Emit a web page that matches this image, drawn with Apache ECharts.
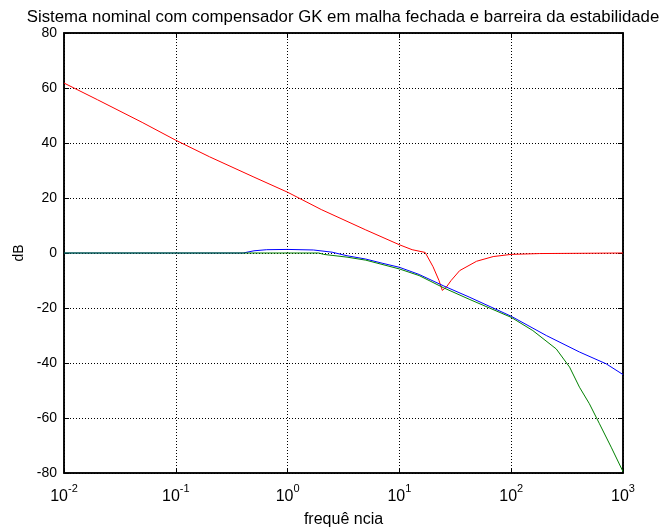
<!DOCTYPE html>
<html>
<head>
<meta charset="utf-8">
<script src="https://cdn.jsdelivr.net/npm/echarts@6/dist/echarts.min.js"></script>
<style>
  html, body { margin: 0; padding: 0; background: #fff; }
  #chart { width: 659px; height: 529px; }
</style>
</head>
<body>
<div id="chart"></div>
<script>
// Open-loop barrier (red)
const redFreq = [0.01, 0.02, 0.05, 0.1, 0.2, 0.5, 1, 2, 5, 10, 13, 17, 20, 22.6, 24.2, 26.3, 29, 34.6, 49, 69, 100, 180, 1000];
const redDb   = [61.8, 55.7, 47.5, 41.0, 35.0, 27.6, 22.1, 15.8, 8.4, 3.0, 1.2, 0.2, -5.0, -10.0, -13.6, -12.4, -10.0, -6.4, -3.0, -1.3, -0.5, -0.2, 0.0];

// Closed loop, nominal plant with GK (blue)
const blueFreq = [0.01, 0.4, 0.5, 0.65, 1, 1.7, 2.5, 3.4, 5, 7, 10, 15, 25, 42, 100, 206, 408, 707, 1000];
const blueDb   = [0.0, 0.0, 0.8, 1.2, 1.3, 1.1, 0.3, -1.0, -2.2, -3.7, -5.2, -7.8, -12.0, -16.0, -23.0, -30.0, -36.0, -40.3, -44.2];

// Closed loop reference (green)
const greenFreq = [0.01, 1.9, 2.1, 3.4, 5, 10, 15, 25, 42, 100, 156, 253, 333, 408, 500, 616, 784, 1000];
const greenDb   = [0.0, 0.0, -0.5, -1.5, -2.6, -5.8, -8.2, -12.7, -16.8, -23.4, -28.2, -34.9, -41.5, -48.8, -54.8, -62.1, -70.6, -79.5];

const yTicks = [-80, -60, -40, -20, 0, 20, 40, 60, 80];

const FONT = 'Liberation Sans, Arial, sans-serif';
const pairs = (xs, ys) => xs.map((x, i) => [x, ys[i]]);

const chart = echarts.init(document.getElementById('chart'), null, { renderer: 'canvas' });

const gridLine = { show: true, lineStyle: { color: '#000', type: [1, 2], width: 1 } };
const blackLine = { show: true, onZero: false, lineStyle: { color: '#000', width: 1.5 } };
const tickIn = { show: true, inside: true, length: 5, lineStyle: { color: '#000' } };

chart.setOption({
  animation: false,
  backgroundColor: '#fff',
  title: {
    text: 'Sistema nominal com compensador GK em malha fechada e barreira da estabilidade',
    left: 338,
    textAlign: 'center',
    top: 4,
    textStyle: { fontFamily: FONT, fontSize: 16.8, fontWeight: 'normal', color: '#000' }
  },
  grid: {
    left: 64, right: 36, top: 33, bottom: 56,
    outerBoundsMode: 'none', containLabel: false,
    show: true, borderColor: '#000', borderWidth: 1.5, backgroundColor: 'transparent'
  },
  xAxis: [{
    type: 'log', logBase: 10, min: 0.01, max: 1000,
    name: 'frequê ncia', nameLocation: 'middle', nameGap: 39,
    nameTextStyle: { fontFamily: FONT, fontSize: 16, color: '#000' },
    axisLine: blackLine, axisTick: tickIn,
    minorTick: { show: false },
    splitLine: gridLine,
    axisLabel: {
      margin: 10,
      // base "10" sits lower, exponent rides on top (equal-height token boxes)
      formatter: v => '{b|10}{s|' + Math.round(Math.log10(v)) + '}',
      rich: {
        b: { fontFamily: FONT, fontSize: 16, color: '#000', lineHeight: 16, padding: [6, 0, 0, 0], verticalAlign: 'top' },
        s: { fontFamily: FONT, fontSize: 11, color: '#000', lineHeight: 11, padding: [0, 0, 11, 0], verticalAlign: 'top' }
      }
    }
  }, {
    type: 'log', logBase: 10, min: 0.01, max: 1000, position: 'top',
    axisLine: blackLine, axisTick: tickIn, axisLabel: { show: false }, splitLine: { show: false }
  }],
  yAxis: [{
    type: 'value', min: -80, max: 80, interval: 20,
    name: 'dB', nameLocation: 'middle', nameGap: 36, nameRotate: 90,
    nameTextStyle: { fontFamily: FONT, fontSize: 14, color: '#000' },
    axisLine: blackLine, axisTick: tickIn,
    splitLine: gridLine,
    axisLabel: {
      margin: 7, fontFamily: FONT, fontSize: 14, color: '#000',
      customValues: yTicks
    }
  }, {
    type: 'value', min: -80, max: 80, interval: 20, position: 'right',
    axisLine: blackLine, axisTick: tickIn, axisLabel: { show: false }, splitLine: { show: false }
  }],
  series: [
    { type: 'line', data: pairs(redFreq, redDb), showSymbol: false, lineStyle: { color: '#ff0000', width: 1 }, itemStyle: { color: '#ff0000' } },
    { type: 'line', data: pairs(blueFreq, blueDb), showSymbol: false, lineStyle: { color: '#0000ff', width: 1 }, itemStyle: { color: '#0000ff' } },
    { type: 'line', data: pairs(greenFreq, greenDb), showSymbol: false, lineStyle: { color: '#008000', width: 1 }, itemStyle: { color: '#008000' } }
  ]
});
</script>
</body>
</html>
